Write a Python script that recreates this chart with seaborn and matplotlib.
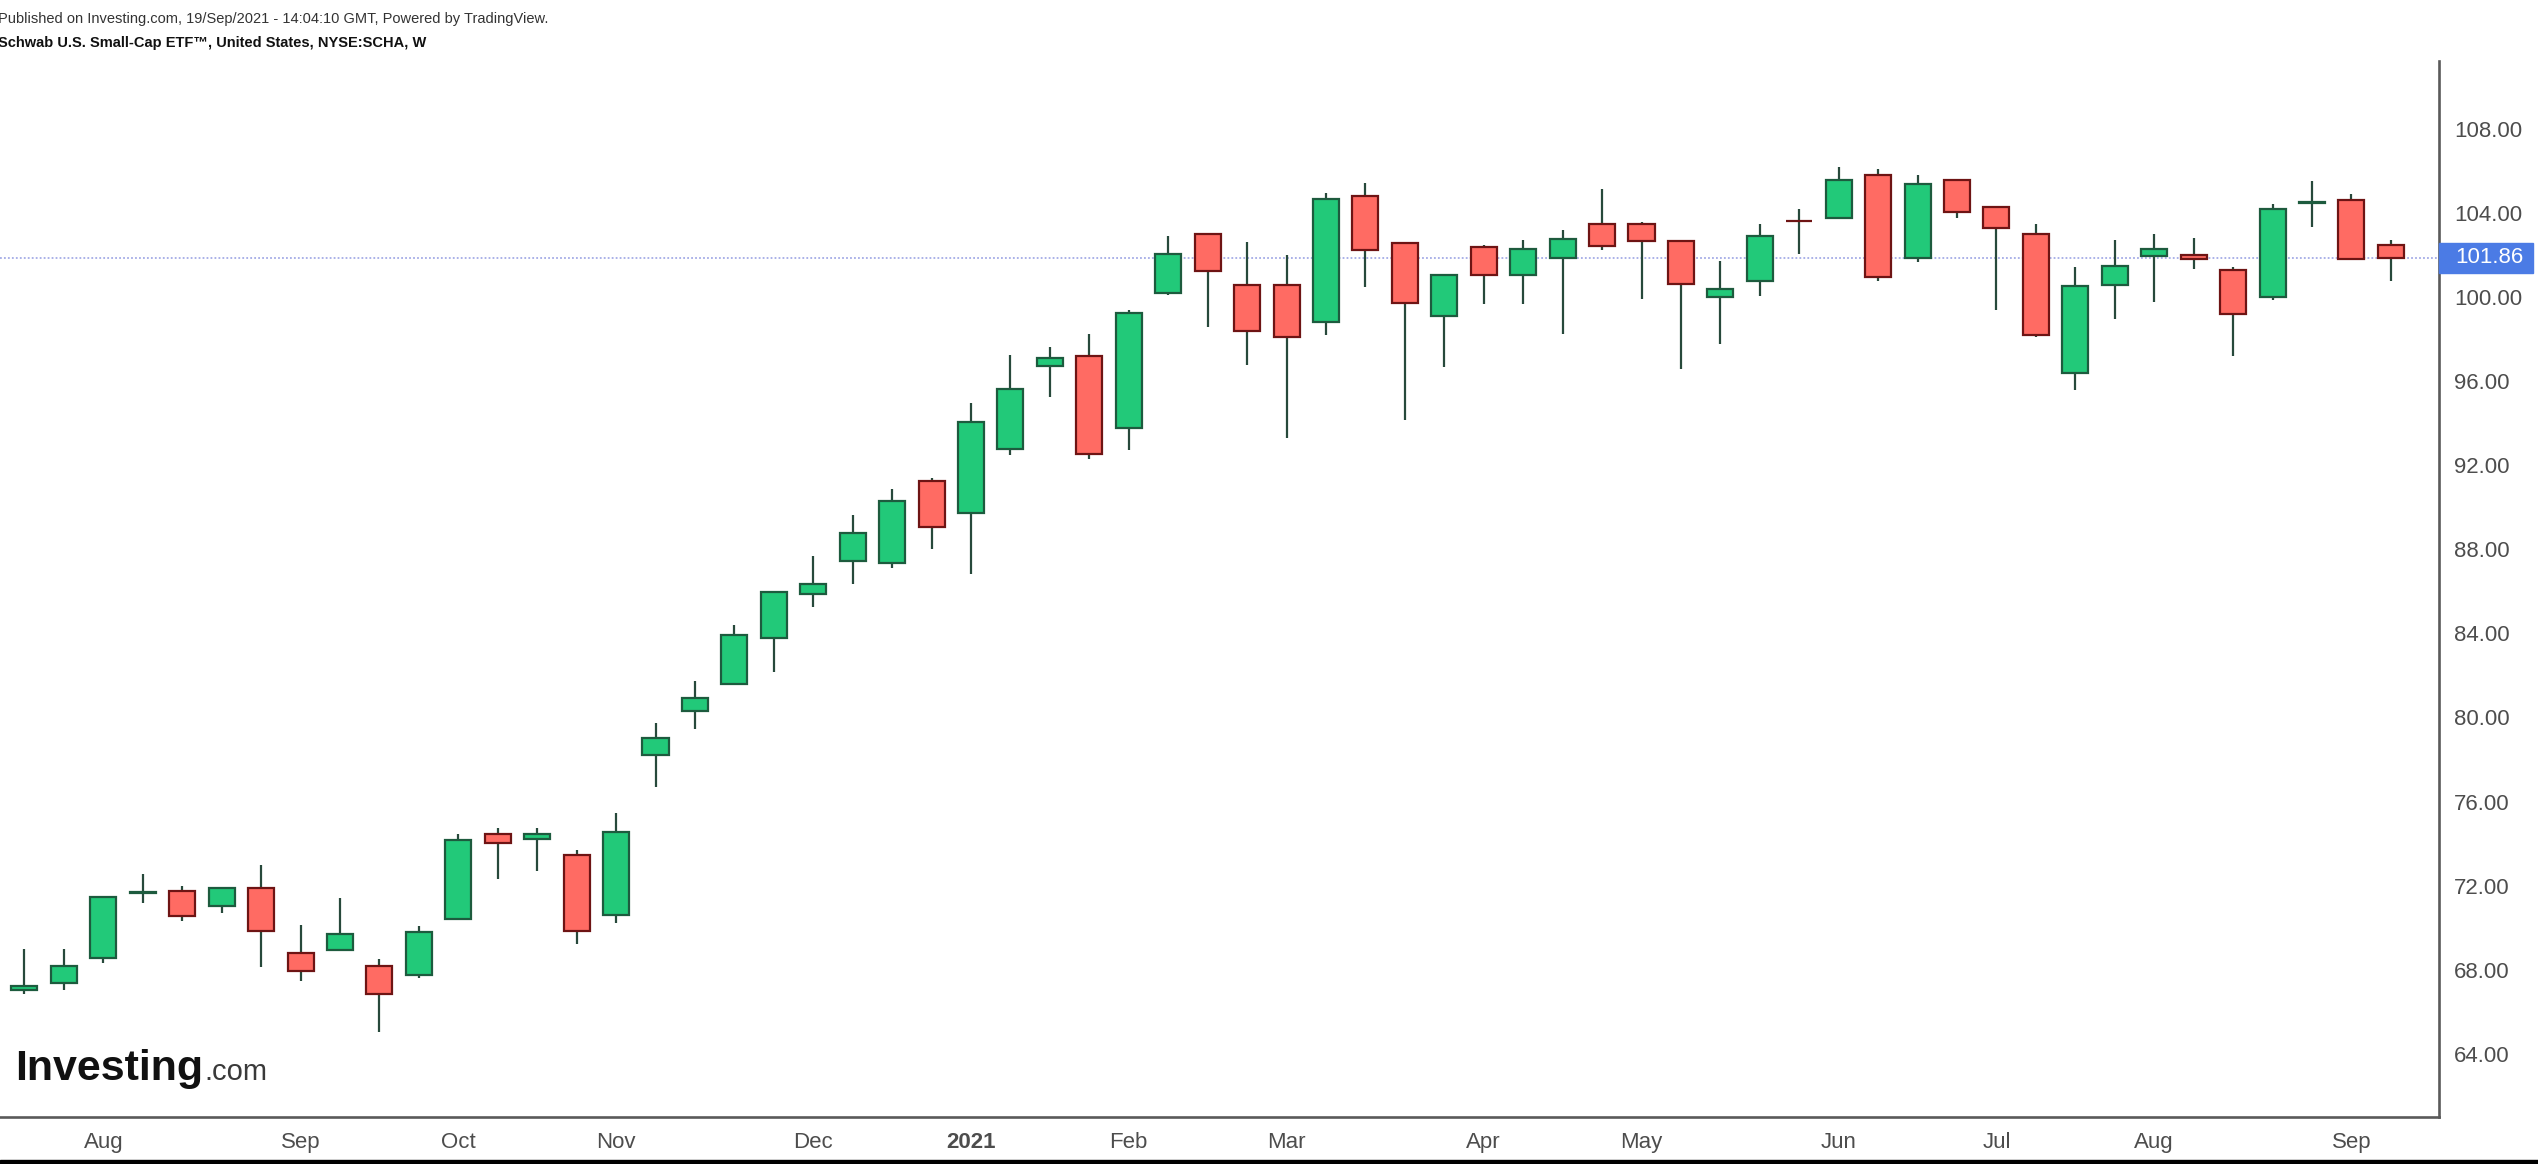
import pandas as pd
import matplotlib
matplotlib.use("Agg")
import matplotlib.pyplot as plt
import matplotlib.transforms as mtransforms
from matplotlib.patches import Rectangle
import seaborn as sns

# weekly candles, SCHA, week of 20 Jul 2020 .. week of 13 Sep 2021
first_week = "2020-07-20"
opens = [67.05, 67.35, 68.54, 71.65, 71.76, 71.05, 71.87, 68.80, 68.95, 68.19,
         67.76, 70.44, 74.44, 74.22, 73.44, 70.63, 78.20, 80.30, 81.60, 83.77,
         85.86, 87.45, 87.36, 91.26, 89.74, 92.75, 96.71, 97.20, 93.75, 100.21,
         102.97, 100.55, 100.55, 98.80, 104.80, 102.57, 99.10, 102.38, 101.02, 101.84,
         103.49, 103.49, 102.68, 100.00, 100.75, 103.62, 103.76, 105.78, 101.87, 105.57,
         104.27, 102.97, 96.40, 100.57, 101.95, 102.00, 101.30, 99.98, 104.46, 104.59,
         102.49]
highs = [69.00, 69.00, 71.47, 72.58, 71.99, 71.89, 72.98, 70.11, 71.40, 68.50,
         70.10, 74.47, 74.76, 74.76, 73.68, 75.45, 79.74, 81.72, 84.40, 85.98,
         87.70, 89.61, 90.88, 91.40, 94.97, 97.26, 97.63, 98.23, 99.36, 102.91,
         102.97, 102.60, 101.99, 104.92, 105.42, 102.57, 101.05, 102.45, 102.71, 103.20,
         105.13, 103.55, 102.70, 101.70, 103.49, 104.19, 106.19, 106.10, 105.78, 105.60,
         104.30, 103.49, 101.43, 102.73, 103.00, 102.81, 101.43, 104.40, 105.49, 104.90,
         102.73]
lows = [66.84, 67.05, 68.32, 71.20, 70.30, 70.70, 68.13, 67.45, 68.95, 65.05,
        67.60, 70.44, 72.32, 72.71, 69.24, 70.22, 76.70, 79.47, 81.60, 82.15,
        85.26, 86.34, 87.12, 88.02, 86.83, 92.50, 95.25, 92.30, 92.70, 100.09,
        98.57, 96.75, 93.31, 98.17, 100.49, 94.13, 96.65, 99.68, 99.68, 98.26,
        102.23, 99.88, 96.55, 97.75, 100.03, 102.05, 103.70, 100.76, 101.65, 103.73,
        99.37, 98.08, 95.59, 98.95, 99.76, 101.35, 97.17, 99.86, 103.33, 101.78,
        100.75]
closes = [67.21, 68.19, 71.47, 71.66, 70.54, 71.89, 69.84, 67.95, 69.70, 66.86,
          69.78, 74.15, 74.03, 74.45, 69.84, 74.55, 79.03, 80.91, 83.90, 85.98,
          86.37, 88.79, 90.28, 89.04, 94.05, 95.60, 97.10, 92.55, 99.23, 102.05,
          101.21, 98.39, 98.10, 104.68, 102.25, 99.71, 101.05, 101.02, 102.26, 102.76,
          102.42, 102.65, 100.62, 100.36, 102.88, 103.59, 105.56, 100.97, 105.37, 104.06,
          103.27, 98.19, 100.51, 101.49, 102.30, 101.78, 99.17, 104.19, 104.50, 101.78,
          101.86]
last_price = 101.86
price_ticks = list(range(64, 109, 4))

df = pd.DataFrame({"open": opens, "high": highs, "low": lows, "close": closes})
df["week"] = pd.date_range(first_week, periods=len(df), freq="W-MON")
df["up"] = df["close"] >= df["open"]
df["x"] = range(len(df))

sns.set_theme(style="white")
plt.rcParams["font.family"] = ["Liberation Sans", "DejaVu Sans"]

fig = plt.figure(figsize=(25.38, 11.64), dpi=100)
fig.patch.set_facecolor("white")
ax = fig.add_axes([0, 47 / 1164, 2439 / 2538, (1117 - 61) / 1164])
ax.set_facecolor("white")

green, green_edge = "#22c979", "#1d5b3e"
red, red_edge = "#ff6b63", "#6e1414"
wick = "#27493b"

# wicks
ax.vlines(df["x"], df["low"], df["high"], color=wick, lw=1.6, zorder=1)
# bodies
body_lo = df[["open", "close"]].min(axis=1)
body_h = (df["close"] - df["open"]).abs().clip(lower=0.03)
ax.bar(df["x"], body_h, bottom=body_lo, width=0.66,
       color=[green if u else red for u in df["up"]],
       edgecolor=[green_edge if u else red_edge for u in df["up"]],
       linewidth=1.6, zorder=2)

# last price line + label
ax.axhline(last_price, color="#a4abe6", lw=1.3, ls=(0, (1, 1.2)), zorder=0)
trans = mtransforms.blended_transform_factory(ax.transAxes, ax.transData)
ax.add_patch(Rectangle((1.0, last_price - 0.72), 0.0385, 1.43, transform=trans,
                       color="#4b7be5", clip_on=False, zorder=5))
ax.text(1.0066, last_price, f"{last_price:.2f}", transform=trans, ha="left",
        va="center", color="white", fontsize=16, zorder=6, clip_on=False)

ax.set_xlim(-0.62, 61.22)
ax.set_ylim(61.0, 111.22)

# month ticks at first weekly bar of each month
new_month = df["week"].dt.month != df["week"].dt.month.shift(1)
new_month.iloc[0] = False
tick_rows = df[new_month]
ax.set_xticks(tick_rows["x"])
ax.set_xticklabels([str(d.year) if d.month == 1 else d.strftime("%b")
                    for d in tick_rows["week"]])
for lab, d in zip(ax.get_xticklabels(), tick_rows["week"]):
    if d.month == 1:
        lab.set_fontweight("bold")

ax.yaxis.tick_right()
ax.set_yticks(price_ticks)
ax.set_yticklabels([f"{p:.2f}" for p in price_ticks])
ax.tick_params(axis="y", direction="out", length=5, width=1.3, color="#555555",
               labelcolor="#4d4d4d", labelsize=16, pad=6)
ax.tick_params(axis="x", direction="out", length=4.5, width=1.3, color="#555555",
               labelcolor="#4d4d4d", labelsize=16, pad=6)
ax.grid(False)
sns.despine(ax=ax, left=True, top=True, right=False, bottom=False)
for s in ["right", "bottom"]:
    ax.spines[s].set_color("#5a5a5a")
    ax.spines[s].set_linewidth(1.9)

# header
fig.text(-0.0006, 1 - 19 / 1164,
         "Published on Investing.com, 19/Sep/2021 - 14:04:10 GMT, Powered by TradingView.",
         fontsize=10.5, color="#333333", va="center", ha="left")
fig.text(-0.0006, 1 - 43 / 1164,
         "Schwab U.S. Small-Cap ETF\u2122, United States, NYSE:SCHA, W",
         fontsize=10.5, color="#111111", fontweight="bold", va="center", ha="left")

# watermark logo
fig.text(15 / 2538, 1 - 1080 / 1164, "Investing", fontsize=31, fontweight="bold",
         color="#111111", va="baseline", ha="left")
fig.text(204 / 2538, 1 - 1080 / 1164, ".com", fontsize=21, color="#3a3a3a",
         va="baseline", ha="left")

# thin dark strip along the bottom edge
fig.patches.append(Rectangle((0, 0), 1, 4 / 1164, transform=fig.transFigure,
                             color="black", zorder=10))

fig.savefig("out.png", dpi=100)
